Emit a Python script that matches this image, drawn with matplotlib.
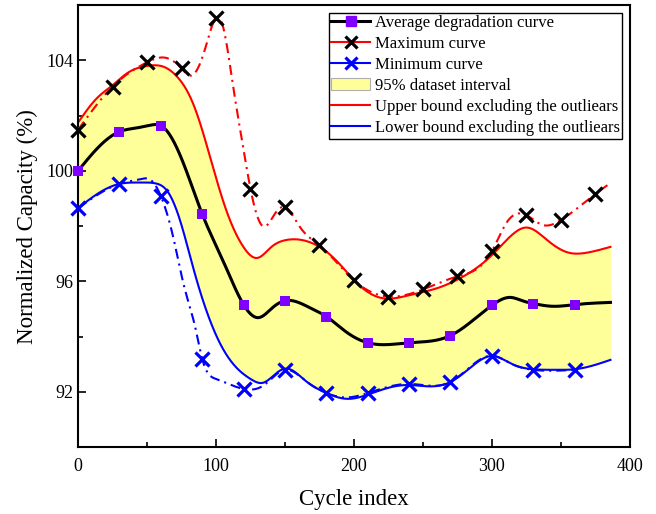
import numpy as np
import matplotlib
matplotlib.use("Agg")
import matplotlib.pyplot as plt
from matplotlib.lines import Line2D
from matplotlib.patches import Patch
from matplotlib.ticker import MultipleLocator

plt.rcParams['font.family'] = ['Liberation Serif', 'DejaVu Serif']

# average degradation curve: measured points (squares) and its drawn path
avg_cycles = [0, 30, 60, 90, 120, 150, 180, 210, 240, 270, 300, 330, 360]
avg_capacity = [100.0, 101.42, 101.64, 98.44, 95.16, 95.30, 94.73, 93.78, 93.78, 94.04, 95.13, 95.20, 95.16]
avg_path_x = [0, 15, 30, 43, 53, 60, 70, 80, 90, 105, 120, 131, 141, 150, 168, 180, 195, 210,
              221, 240, 270, 284, 300, 314, 322, 330, 344, 360, 386]
avg_path_y = [100.0, 100.87, 101.42, 101.56, 101.66, 101.64, 101.0, 99.8, 98.44, 96.76, 95.16,
              94.69, 95.05, 95.3, 95.05, 94.73, 94.15, 93.78, 93.71, 93.78, 94.04, 94.5, 95.13,
              95.42, 95.3, 95.2, 95.1, 95.16, 95.24]

# maximum curve (black crosses, red dash-dot)
max_cycles = [0, 25, 50, 75, 100, 125, 150, 175, 200, 225, 250, 275, 300, 325, 350, 375]
max_capacity = [101.49, 103.05, 103.93, 103.71, 105.53, 99.35, 98.69, 97.31, 96.04, 95.45,
                95.71, 96.18, 97.09, 98.40, 98.22, 99.16]
max_path_x = [0, 25, 50, 63, 75, 82, 92, 100, 105, 112, 120, 125, 134, 143, 150, 161, 175,
              200, 225, 250, 275, 300, 311, 325, 337, 350, 375, 384]
max_path_y = [101.49, 103.05, 103.93, 104.1, 103.71, 103.45, 104.4, 105.53, 105.24, 103.2,
              100.76, 99.35, 98.0, 98.47, 98.69, 97.96, 97.31, 96.04, 95.45, 95.71, 96.18,
              97.09, 98.15, 98.4, 98.04, 98.22, 99.16, 99.49]

# minimum curve (blue crosses, blue dash-dot)
min_cycles = [0, 30, 60, 90, 120, 150, 180, 210, 240, 270, 300, 330, 360]
min_capacity = [98.65, 99.53, 99.09, 93.20, 92.11, 92.80, 91.96, 91.96, 92.29, 92.36, 93.31, 92.80, 92.80]
min_path_x = [0, 30, 45, 53, 60, 69, 77, 85, 90, 100, 111, 120, 134, 150, 165, 180, 195, 210,
              240, 270, 300, 315, 330, 360]
min_path_y = [98.65, 99.53, 99.7, 99.66, 99.09, 97.6, 95.8, 94.33, 93.2, 92.47, 92.25, 92.11,
              92.22, 92.8, 92.4, 91.96, 91.8, 91.96, 92.29, 92.36, 93.31, 93.0, 92.8, 92.8]

# bounds of the 95% interval without outliers
upper_cycles = [0, 14, 25, 36, 50, 63, 72, 82, 88, 98, 108, 120, 130, 140, 151, 168, 182, 192,
                200, 220, 240, 260, 280, 300, 315, 325, 340, 355, 370, 386]
upper_capacity = [101.75, 102.65, 103.1, 103.55, 103.8, 103.75, 103.4, 102.6, 101.8, 100.1,
                  98.5, 97.24, 96.85, 97.24, 97.5, 97.42, 97.0, 96.5, 96.05, 95.4, 95.5,
                  95.75, 96.2, 96.95, 97.7, 97.95, 97.5, 97.05, 97.05, 97.25]
lower_cycles = [0, 15, 30, 45, 56, 65, 74, 84, 93, 103, 115, 125, 134, 146, 152, 165, 180,
                195, 210, 225, 240, 255, 270, 285, 300, 315, 330, 345, 360, 375, 386]
lower_capacity = [98.65, 99.2, 99.53, 99.58, 99.55, 99.25, 98.2, 96.4, 94.95, 93.75, 92.87,
                  92.47, 92.33, 92.76, 92.84, 92.4, 91.96, 91.75, 91.9, 92.15, 92.25, 92.2,
                  92.36, 92.9, 93.3, 93.0, 92.82, 92.8, 92.82, 92.98, 93.16]


def spline(x, y, xs):
    """natural cubic spline through (x, y), evaluated at xs"""
    x = np.asarray(x, float)
    y = np.asarray(y, float)
    n = len(x)
    h = np.diff(x)
    A = np.zeros((n, n))
    r = np.zeros(n)
    A[0, 0] = A[-1, -1] = 1
    for i in range(1, n - 1):
        A[i, i - 1] = h[i - 1]
        A[i, i] = 2 * (h[i - 1] + h[i])
        A[i, i + 1] = h[i]
        r[i] = 6 * ((y[i + 1] - y[i]) / h[i] - (y[i] - y[i - 1]) / h[i - 1])
    M = np.linalg.solve(A, r)
    idx = np.clip(np.searchsorted(x, xs) - 1, 0, n - 2)
    x0, x1 = x[idx], x[idx + 1]
    hh = x1 - x0
    a = (x1 - xs) / hh
    b = (xs - x0) / hh
    return a * y[idx] + b * y[idx + 1] + ((a**3 - a) * M[idx] + (b**3 - b) * M[idx + 1]) * hh**2 / 6


def smooth(x, y):
    xs = np.linspace(x[0], x[-1], 1000)
    return xs, spline(x, y, xs)


fig = plt.figure(figsize=(6.56, 5.14), dpi=100)
ax = fig.add_axes([0.119, 0.130, 0.841, 0.860])

xs = np.linspace(0, 386, 1000)
up = spline(upper_cycles, upper_capacity, xs)
lo = spline(lower_cycles, lower_capacity, xs)
ax.fill_between(xs, lo, up, color="#FFFF99", lw=0, zorder=1)
ax.plot(xs, up, color="red", lw=1.5, zorder=2)
ax.plot(xs, lo, color="blue", lw=1.5, zorder=2)

dashdot = (0, (4.8, 2.4, 1, 2.4))
ax.plot(*smooth(max_path_x, max_path_y), color="red", lw=1.5, ls=dashdot, zorder=3)
ax.plot(*smooth(min_path_x, min_path_y), color="blue", lw=1.5, ls=dashdot, zorder=3)
ax.plot(*smooth(avg_path_x, avg_path_y), color="black", lw=2.2, zorder=4)

ax.plot(max_cycles, max_capacity, ls="none", marker="x", ms=10, mew=2.3, color="black", zorder=5, clip_on=False)
ax.plot(min_cycles, min_capacity, ls="none", marker="x", ms=10, mew=2.3, color="blue", zorder=5, clip_on=False)
ax.plot(avg_cycles, avg_capacity, ls="none", marker="s", ms=7, mew=0, color="#8000FF", zorder=6, clip_on=False)

ax.set_xlim(0, 400)
ax.set_ylim(90, 106)
ax.xaxis.set_major_locator(MultipleLocator(100))
ax.xaxis.set_minor_locator(MultipleLocator(50))
ax.yaxis.set_major_locator(MultipleLocator(4))
ax.yaxis.set_minor_locator(MultipleLocator(2))
ax.tick_params(which="both", direction="in", width=1.2, labelsize=13)
ax.tick_params(which="major", length=6)
ax.tick_params(which="minor", length=3.5)
ax.tick_params(axis="x", pad=8)
for s in ax.spines.values():
    s.set_linewidth(1.5)

ax.set_xlabel("Cycle index", fontsize=16.5, labelpad=10)
ax.set_ylabel("Normalized Capacity (%)", fontsize=16.5, labelpad=6)

handles = [
    Line2D([], [], color="black", lw=2.2, marker="s", ms=7, mec="#8000FF", mfc="#8000FF"),
    Line2D([], [], color="red", lw=1.5, marker="x", ms=9, mew=2.3, mec="black"),
    Line2D([], [], color="blue", lw=1.5, marker="x", ms=9, mew=2.3, mec="blue"),
    Patch(facecolor="#FFFF99", edgecolor="#B0B0B0", lw=0.8),
    Line2D([], [], color="red", lw=1.5),
    Line2D([], [], color="blue", lw=1.5),
]
labels = ["Average degradation curve", "Maximum curve", "Minimum curve",
          "95% dataset interval", "Upper bound excluding the outliears",
          "Lower bound excluding the outliears"]
leg = ax.legend(handles, labels, loc="upper right", fontsize=12, frameon=True, fancybox=False,
                framealpha=1, edgecolor="black", handlelength=2.3, handletextpad=0.3,
                labelspacing=0.3, borderpad=0.15, borderaxespad=0.45)
leg.get_frame().set_linewidth(1.0)

fig.savefig("out.png", dpi=100)
